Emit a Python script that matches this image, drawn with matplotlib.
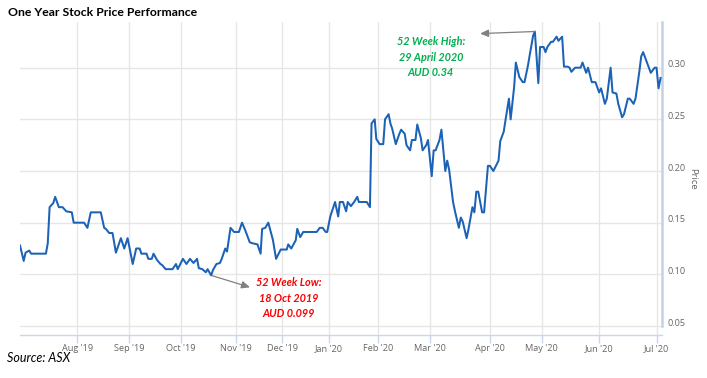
import numpy as np
import matplotlib
matplotlib.use("Agg")
import matplotlib.pyplot as plt
import matplotlib.dates as mdates
from matplotlib.transforms import ScaledTranslation

# ---------------- data ----------------
dates = [
    "2019-07-01", "2019-07-03", "2019-07-04", "2019-07-06", "2019-07-07", "2019-07-15", "2019-07-16",
    "2019-07-17", "2019-07-19", "2019-07-20", "2019-07-22", "2019-07-24", "2019-07-26", "2019-07-29",
    "2019-07-30",
    "2019-08-05", "2019-08-07", "2019-08-09", "2019-08-15", "2019-08-17", "2019-08-18", "2019-08-20",
    "2019-08-22", "2019-08-24", "2019-08-27", "2019-08-29", "2019-08-31",
    "2019-09-03", "2019-09-05", "2019-09-07", "2019-09-08", "2019-09-11", "2019-09-12", "2019-09-14",
    "2019-09-15", "2019-09-17", "2019-09-19", "2019-09-20", "2019-09-22", "2019-09-26", "2019-09-28",
    "2019-09-29",
    "2019-10-02", "2019-10-04", "2019-10-06", "2019-10-08", "2019-10-10", "2019-10-11", "2019-10-13",
    "2019-10-15", "2019-10-16", "2019-10-18", "2019-10-19", "2019-10-21", "2019-10-23", "2019-10-24",
    "2019-10-26", "2019-10-27", "2019-10-29", "2019-10-31",
    "2019-11-03", "2019-11-05", "2019-11-07", "2019-11-10", "2019-11-12", "2019-11-15", "2019-11-17",
    "2019-11-18", "2019-11-20", "2019-11-22", "2019-11-25", "2019-11-27", "2019-11-30",
    "2019-12-04", "2019-12-05", "2019-12-07", "2019-12-10", "2019-12-11", "2019-12-13", "2019-12-15",
    "2019-12-24", "2019-12-26", "2019-12-28", "2019-12-30", "2019-12-31",
    "2020-01-02", "2020-01-05", "2020-01-07", "2020-01-08", "2020-01-10", "2020-01-12", "2020-01-13",
    "2020-01-15", "2020-01-17", "2020-01-19", "2020-01-20", "2020-01-22", "2020-01-25", "2020-01-27",
    "2020-01-28", "2020-01-30", "2020-01-31",
    "2020-02-02", "2020-02-04", "2020-02-05", "2020-02-07", "2020-02-08", "2020-02-09", "2020-02-11",
    "2020-02-13", "2020-02-14", "2020-02-16", "2020-02-17", "2020-02-19", "2020-02-20", "2020-02-22",
    "2020-02-23", "2020-02-25", "2020-02-26", "2020-02-28", "2020-02-29",
    "2020-03-02", "2020-03-03", "2020-03-04", "2020-03-06", "2020-03-07", "2020-03-09", "2020-03-10",
    "2020-03-11", "2020-03-13", "2020-03-14", "2020-03-16", "2020-03-17", "2020-03-18", "2020-03-20",
    "2020-03-21", "2020-03-23", "2020-03-24", "2020-03-25", "2020-03-26", "2020-03-28", "2020-03-29",
    "2020-03-31",
    "2020-04-01", "2020-04-03", "2020-04-06", "2020-04-07", "2020-04-09", "2020-04-10", "2020-04-12",
    "2020-04-13", "2020-04-15", "2020-04-16", "2020-04-18", "2020-04-20", "2020-04-21", "2020-04-23",
    "2020-04-24", "2020-04-26", "2020-04-27", "2020-04-29", "2020-04-30",
    "2020-05-02", "2020-05-03", "2020-05-04", "2020-05-06", "2020-05-07", "2020-05-09", "2020-05-10",
    "2020-05-12", "2020-05-13", "2020-05-15", "2020-05-16", "2020-05-17", "2020-05-19", "2020-05-22",
    "2020-05-23", "2020-05-25", "2020-05-26", "2020-05-28", "2020-05-30",
    "2020-06-01", "2020-06-02", "2020-06-04", "2020-06-05", "2020-06-07", "2020-06-08", "2020-06-10",
    "2020-06-11", "2020-06-13", "2020-06-14", "2020-06-16", "2020-06-17", "2020-06-19", "2020-06-20",
    "2020-06-22", "2020-06-23", "2020-06-24", "2020-06-25", "2020-06-27", "2020-06-28", "2020-06-30",
    "2020-07-01", "2020-07-02", "2020-07-03",
]
prices = [
    0.128, 0.113, 0.121, 0.123, 0.120, 0.120, 0.130,
    0.165, 0.169, 0.175, 0.165, 0.165, 0.161, 0.160,
    0.150,
    0.150, 0.145, 0.160, 0.160, 0.145, 0.144, 0.140,
    0.140, 0.121, 0.135, 0.125, 0.135,
    0.110, 0.125, 0.125, 0.120, 0.120, 0.115, 0.115,
    0.120, 0.114, 0.110, 0.109, 0.105, 0.105, 0.110,
    0.105,
    0.115, 0.110, 0.115, 0.111, 0.115, 0.106, 0.105,
    0.102, 0.105, 0.099, 0.104, 0.110, 0.111, 0.115,
    0.125, 0.122, 0.145, 0.141,
    0.141, 0.150, 0.143, 0.131, 0.130, 0.129, 0.120,
    0.144, 0.145, 0.150, 0.133, 0.115, 0.124,
    0.124, 0.129, 0.125, 0.133, 0.144, 0.136, 0.141,
    0.141, 0.145, 0.145, 0.141, 0.141,
    0.156, 0.170, 0.156, 0.170, 0.170, 0.161, 0.170,
    0.166, 0.170, 0.175, 0.170, 0.170, 0.170, 0.165,
    0.246, 0.250, 0.231,
    0.226, 0.226, 0.250, 0.255, 0.246, 0.241, 0.226,
    0.236, 0.240, 0.236, 0.225, 0.220, 0.230, 0.230,
    0.245, 0.232, 0.220, 0.225, 0.230,
    0.195, 0.220, 0.220, 0.230, 0.240, 0.200, 0.210,
    0.201, 0.170, 0.161, 0.145, 0.155, 0.151, 0.135,
    0.144, 0.165, 0.160, 0.180, 0.180, 0.160, 0.160,
    0.205,
    0.205, 0.200, 0.210, 0.229, 0.238, 0.249, 0.270,
    0.250, 0.281, 0.305, 0.291, 0.286, 0.286, 0.302,
    0.312, 0.331, 0.335, 0.285, 0.320,
    0.320, 0.315, 0.320, 0.325, 0.325, 0.330, 0.326,
    0.330, 0.301, 0.301, 0.300, 0.296, 0.300, 0.300,
    0.305, 0.295, 0.300, 0.286, 0.286,
    0.276, 0.280, 0.265, 0.270, 0.300, 0.276, 0.275,
    0.265, 0.252, 0.255, 0.270, 0.270, 0.265, 0.270,
    0.296, 0.311, 0.315, 0.310, 0.300, 0.295, 0.300,
    0.300, 0.280, 0.290,
]

# trading sessions per calendar month (ordinal x axis, as in stock charts)
month_starts = ["2019-07-01", "2019-08-01", "2019-09-01", "2019-10-01", "2019-11-01", "2019-12-01",
                "2020-01-01", "2020-02-01", "2020-03-01", "2020-04-01", "2020-05-01", "2020-06-01",
                "2020-07-01", "2020-08-01"]
sessions_per_month = [21, 19, 19, 20, 17, 17, 18, 19, 22, 19, 21, 21, 23]

tick_dates = month_starts[1:13]
tick_labels = ["Aug '19", "Sep '19", "Oct '19", "Nov '19", "Dec '19", "Jan '20",
               "Feb '20", "Mar '20", "Apr '20", "May '20", "Jun '20", "Jul '20"]
y_ticks = [0.05, 0.10, 0.15, 0.20, 0.25, 0.30]

title = "One Year Stock Price Performance"
source = "Source: ASX"
high_text = "52 Week High:\n29 April 2020\nAUD 0.34"
low_text = "52 Week Low:\n18 Oct 2019\nAUD 0.099"

# ---------------- plot ----------------
x = mdates.datestr2num(dates)
y = np.array(prices)
knot_num = mdates.datestr2num(month_starts)
knot_pos = np.concatenate([[0], np.cumsum(sessions_per_month)]).astype(float)


def fwd(v):
    return np.interp(v, knot_num, knot_pos)


def inv(p):
    return np.interp(p, knot_pos, knot_num)


fig = plt.figure(figsize=(7.07, 3.78), dpi=100)
W, H = 707, 378
ax = fig.add_axes([20 / W, (H - 335) / H, 642 / W, (335 - 22) / H])
ax.set_xscale("function", functions=(fwd, inv))

line_color = "#1c62b5"
ax.plot(x, y, color=line_color, lw=1.45, solid_joinstyle="round", zorder=3)

ax.set_xlim(knot_num[0], mdates.datestr2num("2020-07-03") + 0.7)
ax.set_ylim(0.0413, 0.3442)

ax.set_xticks(mdates.datestr2num(tick_dates))
ax.set_xticklabels(tick_labels)
ax.set_yticks(y_ticks)
ax.set_yticklabels([f"{v:.2f}" for v in y_ticks])
ax.minorticks_off()

grid_c = "#e6e6e6"
ax.grid(True, color=grid_c, lw=1.0)
ax.set_axisbelow(True)

axis_c = "#ccd6eb"
for s in ["top", "left"]:
    ax.spines[s].set_visible(False)
ax.spines["bottom"].set_color(axis_c)
ax.spines["bottom"].set_linewidth(1.0)
ax.spines["right"].set_color("#c3d1e6")
ax.spines["right"].set_linewidth(1.8)
ax.spines["right"].set_bounds(0.05, 0.3442)

lab_font = "Open Sans"
ax.tick_params(axis="x", direction="out", length=6, width=1, color=axis_c,
               labelsize=6.6, labelcolor="#666666", pad=0.5)
ax.tick_params(axis="y", which="both", length=0, labelsize=6.6, labelcolor="#666666",
               left=False, right=True, labelleft=False, labelright=True, pad=4)
for lab in ax.get_xticklabels() + ax.get_yticklabels():
    lab.set_family(lab_font)
for lab in ax.get_yticklabels():
    lab.set_transform(lab.get_transform() + ScaledTranslation(0, 4 / 100, fig.dpi_scale_trans))

ax.yaxis.set_label_position("right")
ax.set_ylabel("Price", rotation=270, color="#666666", fontsize=6.8, family=lab_font, labelpad=8.5)

# annotations
ih = int(np.argmax(y))
il = int(np.argmin(y))
arrow_c = "#808080"
ax.annotate("", xy=(x[ih], y[ih]), xytext=(-39.5, -1.5), textcoords="offset points",
            arrowprops=dict(arrowstyle="<|-,head_length=0.5,head_width=0.22", color=arrow_c,
                            lw=0.9, shrinkA=0, shrinkB=0))
ax.annotate(high_text, xy=(x[ih], y[ih]), xytext=(-75, -18.5), textcoords="offset points",
            ha="center", va="center", color="#00b050", fontsize=7.8, fontweight="bold",
            fontstyle="italic", family="Lato", linespacing=1.5)
ax.annotate("", xy=(x[il], y[il]), xytext=(28, -8.6), textcoords="offset points",
            arrowprops=dict(arrowstyle="<|-,head_length=0.5,head_width=0.22", color=arrow_c,
                            lw=0.9, shrinkA=0, shrinkB=1))
ax.annotate(low_text, xy=(x[il], y[il]), xytext=(56, -16.5), textcoords="offset points",
            ha="center", va="center", color="#ff0000", fontsize=7.8, fontweight="bold",
            fontstyle="italic", family="Lato", linespacing=1.5)

fig.text(8 / W, 1 - 12 / H, title, ha="left", va="center", fontsize=8.8, fontweight="bold",
         family="Lato", color="#000000")
fig.text(7 / W, 1 - 358 / H, source, ha="left", va="center", fontsize=9, fontstyle="italic",
         family="Lato", color="#000000")

fig.savefig("out.png", dpi=100)
